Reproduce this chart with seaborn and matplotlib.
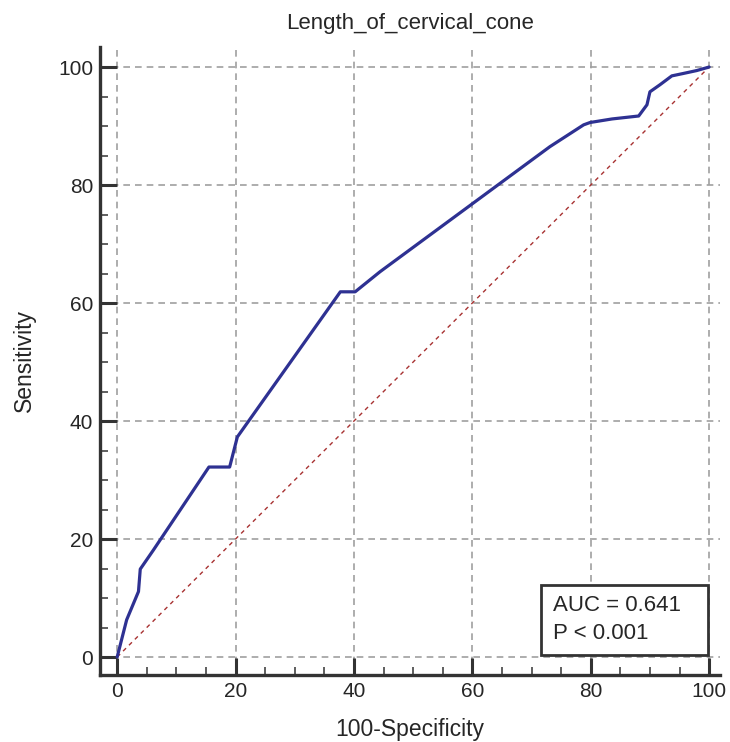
import matplotlib.pyplot as plt
import seaborn as sns
import pandas as pd
from matplotlib.patches import Rectangle
from matplotlib.ticker import MultipleLocator

# ROC curve points
fpr = [0, 1.6, 3.6, 3.9, 6.1, 9.5, 15.5, 19.0, 20.3, 37.7, 40.2, 44.4,
       73.1, 78.8, 79.9, 83.6, 88.1, 89.5, 90.0, 91.7, 93.7, 95.6, 97.9, 100]
tpr = [0, 6.3, 11.1, 14.9, 18.1, 23.2, 32.2, 32.2, 37.3, 61.9, 61.9, 65.3,
       86.5, 90.2, 90.6, 91.2, 91.7, 93.6, 95.8, 97.0, 98.5, 98.9, 99.4, 100]
diag = [0, 100]
title = "Length_of_cervical_cone"
auc_text = "AUC = 0.641\nP < 0.001"

sns.set_style("white")
plt.rcParams["font.family"] = ["Liberation Sans", "DejaVu Sans"]

roc = pd.DataFrame({"x": fpr, "y": tpr})
ref = pd.DataFrame({"x": diag, "y": diag})

fig = plt.figure(figsize=(7.3, 7.42), dpi=100)
ax = fig.add_axes([0.137, 0.0903, 0.849, 0.8464])

ax.grid(True, which="major", color="#a0a0a0", linestyle=(0, (4, 3)), linewidth=1.2)
sns.lineplot(data=ref, x="x", y="y", ax=ax, color="#a83232",
             linestyle=(0, (3, 3)), linewidth=1.0, sort=False)
sns.lineplot(data=roc, x="x", y="y", ax=ax, color="#2e3192",
             linewidth=2.3, sort=False)

ax.set_xlim(-2.9, 101.8)
ax.set_ylim(-3.05, 103.4)
ax.xaxis.set_major_locator(MultipleLocator(20))
ax.yaxis.set_major_locator(MultipleLocator(20))
ax.xaxis.set_minor_locator(MultipleLocator(5))
ax.yaxis.set_minor_locator(MultipleLocator(5))
ax.tick_params(which="major", direction="in", length=12.2, width=2.2,
               color="#333333", labelsize=15, pad=5, bottom=True, left=True)
ax.tick_params(which="minor", direction="in", length=5.8, width=1.1,
               color="#333333", bottom=True, left=True)

for s in ["top", "right"]:
    ax.spines[s].set_visible(False)
for s in ["left", "bottom"]:
    ax.spines[s].set_linewidth(2.4)
    ax.spines[s].set_color("#333333")

ax.set_title(title, fontsize=16, pad=13)
ax.set_xlabel("100-Specificity", fontsize=16.5, labelpad=12)
ax.set_ylabel("Sensitivity", fontsize=16.5, labelpad=16)

# AUC box in the lower right corner
ax.add_patch(Rectangle((0.711, 0.032), 0.27, 0.111, transform=ax.transAxes,
                       facecolor="white", edgecolor="#333333", linewidth=2,
                       zorder=5, clip_on=False))
ax.text(0.731, 0.127, auc_text, transform=ax.transAxes, fontsize=16,
        ha="left", va="top", linespacing=1.4, zorder=6)

fig.savefig("out.png", dpi=100)
